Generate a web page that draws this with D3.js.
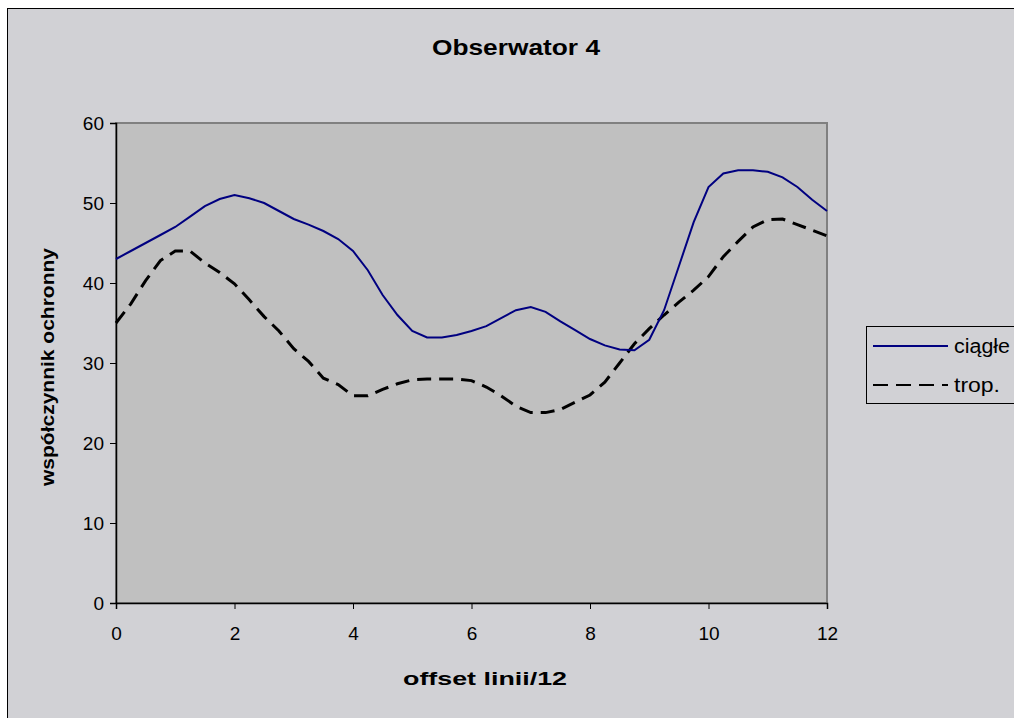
<!DOCTYPE html>
<html>
<head>
<meta charset="utf-8">
<script src="https://cdn.jsdelivr.net/npm/d3@7/dist/d3.min.js"></script>
<style>
  html, body { margin: 0; padding: 0; background: #ffffff; }
  svg { display: block; font-family: "Liberation Sans", Arial, sans-serif; }
</style>
</head>
<body>
<svg id="chart" width="1014" height="718"></svg>
<script>
// offset positions (line offset / 12)
const offsets = [0, 0.25, 0.5, 0.75, 1, 1.25, 1.5, 1.75, 2, 2.25, 2.5, 2.75, 3, 3.25, 3.5, 3.75,
  4, 4.25, 4.5, 4.75, 5, 5.25, 5.5, 5.75, 6, 6.25, 6.5, 6.75, 7, 7.25, 7.5, 7.75,
  8, 8.25, 8.5, 8.75, 9, 9.25, 9.5, 9.75, 10, 10.25, 10.5, 10.75, 11, 11.25, 11.5, 11.75, 12];

// protection coefficient, continuous mode
const ciagle = [43.0, 44.0, 45.0, 46.0, 47.0, 48.3, 49.6, 50.5, 51.0, 50.6, 50.0, 49.0, 48.0, 47.3, 46.5, 45.5,
  44.0, 41.6, 38.5, 36.0, 34.0, 33.2, 33.2, 33.5, 34.0, 34.6, 35.6, 36.6, 37.0, 36.4, 35.2, 34.1,
  33.0, 32.2, 31.7, 31.6, 32.9, 36.6, 42.1, 47.6, 52.0, 53.7, 54.1, 54.1, 53.9, 53.2, 52.0, 50.4, 49.0];

// protection coefficient, tropical mode
const trop = [35.0, 37.4, 40.3, 42.8, 44.0, 44.0, 42.5, 41.3, 39.9, 37.9, 35.8, 34.0, 31.8, 30.2, 28.1, 27.3,
  25.9, 25.9, 26.7, 27.4, 27.9, 28.0, 28.0, 28.0, 27.8, 27.0, 25.9, 24.6, 23.8, 23.8, 24.2, 25.1,
  26.0, 27.6, 30.0, 32.4, 34.3, 36.0, 37.6, 39.1, 40.8, 43.3, 45.2, 47.0, 47.9, 48.0, 47.3, 46.6, 45.9];

const xTicks = [0, 2, 4, 6, 8, 10, 12];
const yTicks = [0, 10, 20, 30, 40, 50, 60];

const seriesNames = ["ciągłe", "trop."];
const titleText = "Obserwator 4";
const xTitle = "offset linii/12";
const yTitle = "współczynnik ochronny";

const svg = d3.select("#chart");
const W = 1014, H = 718;
const plot = { left: 116, top: 123, right: 827, bottom: 603 };
const FONT = "'Liberation Sans', Arial, sans-serif";

// chart area
svg.append("rect").attr("x", 0).attr("y", 0).attr("width", W).attr("height", H).attr("fill", "#ffffff");
svg.append("rect").attr("x", 7.5).attr("y", 8.5).attr("width", W).attr("height", H)
  .attr("fill", "#d1d1d5").attr("stroke", "#000").attr("stroke-width", 1);

const x = d3.scaleLinear().domain([0, 12]).range([plot.left, plot.right]);
const y = d3.scaleLinear().domain([0, 60]).range([plot.bottom, plot.top]);

// plot area
svg.append("rect")
  .attr("x", plot.left).attr("y", plot.top)
  .attr("width", plot.right - plot.left).attr("height", plot.bottom - plot.top)
  .attr("fill", "#c0c0c0").attr("stroke", "#808080").attr("stroke-width", 2);

// axes
const yAxis = d3.axisLeft(y).tickValues(yTicks).tickSize(6).tickPadding(6).tickFormat(d3.format("d"));
const xAxis = d3.axisBottom(x).tickValues(xTicks).tickSize(6).tickPadding(18).tickFormat(d3.format("d"));

const gy = svg.append("g").attr("transform", `translate(${plot.left},0)`).call(yAxis);
const gx = svg.append("g").attr("transform", `translate(0,${plot.bottom})`).call(xAxis);
[gx, gy].forEach(g => {
  g.select(".domain").attr("stroke", "#000").attr("stroke-width", 1.5);
  g.selectAll(".tick line").attr("stroke", "#000").attr("stroke-width", 1);
  g.selectAll(".tick text").attr("fill", "#000").attr("font-size", 19).attr("font-family", FONT);
});
gy.selectAll(".tick text").attr("dy", "0.35em");

// series lines
const rows = offsets.map((o, i) => ({ o, c: ciagle[i], t: trop[i] }));
const lineC = d3.line().x(d => x(d.o)).y(d => y(d.c));
const lineT = d3.line().x(d => x(d.o)).y(d => y(d.t));

svg.append("path").datum(rows).attr("d", lineT)
  .attr("fill", "none").attr("stroke", "#000").attr("stroke-width", 3)
  .attr("stroke-dasharray", "14,8");
svg.append("path").datum(rows).attr("d", lineC)
  .attr("fill", "none").attr("stroke", "#000080").attr("stroke-width", 2);

// titles
svg.append("text").attr("x", 516).attr("y", 55).attr("text-anchor", "middle")
  .attr("font-size", 22).attr("font-weight", "bold")
  .attr("textLength", 168).attr("lengthAdjust", "spacingAndGlyphs").text(titleText);
svg.append("text").attr("x", 485).attr("y", 685).attr("text-anchor", "middle")
  .attr("font-size", 19).attr("font-weight", "bold")
  .attr("textLength", 164).attr("lengthAdjust", "spacingAndGlyphs").text(xTitle);
svg.append("text").attr("transform", "translate(54,367) rotate(-90)").attr("text-anchor", "middle")
  .attr("font-size", 19).attr("font-weight", "bold")
  .attr("textLength", 238).attr("lengthAdjust", "spacingAndGlyphs").text(yTitle);

// legend
const lg = svg.append("g");
lg.append("rect").attr("x", 866.5).attr("y", 326.5).attr("width", 160).attr("height", 77)
  .attr("fill", "#d1d1d5").attr("stroke", "#000").attr("stroke-width", 1);
lg.append("line").attr("x1", 873).attr("x2", 948).attr("y1", 346).attr("y2", 346)
  .attr("stroke", "#000080").attr("stroke-width", 2);
lg.append("line").attr("x1", 873).attr("x2", 948).attr("y1", 385).attr("y2", 385)
  .attr("stroke", "#000").attr("stroke-width", 2).attr("stroke-dasharray", "15,8");
lg.append("text").attr("x", 954).attr("y", 346).attr("dy", "0.35em").attr("font-size", 20)
  .attr("textLength", 56).attr("lengthAdjust", "spacingAndGlyphs").text(seriesNames[0]);
lg.append("text").attr("x", 954).attr("y", 385).attr("dy", "0.35em").attr("font-size", 20)
  .attr("textLength", 46).attr("lengthAdjust", "spacingAndGlyphs").text(seriesNames[1]);
</script>
</body>
</html>
